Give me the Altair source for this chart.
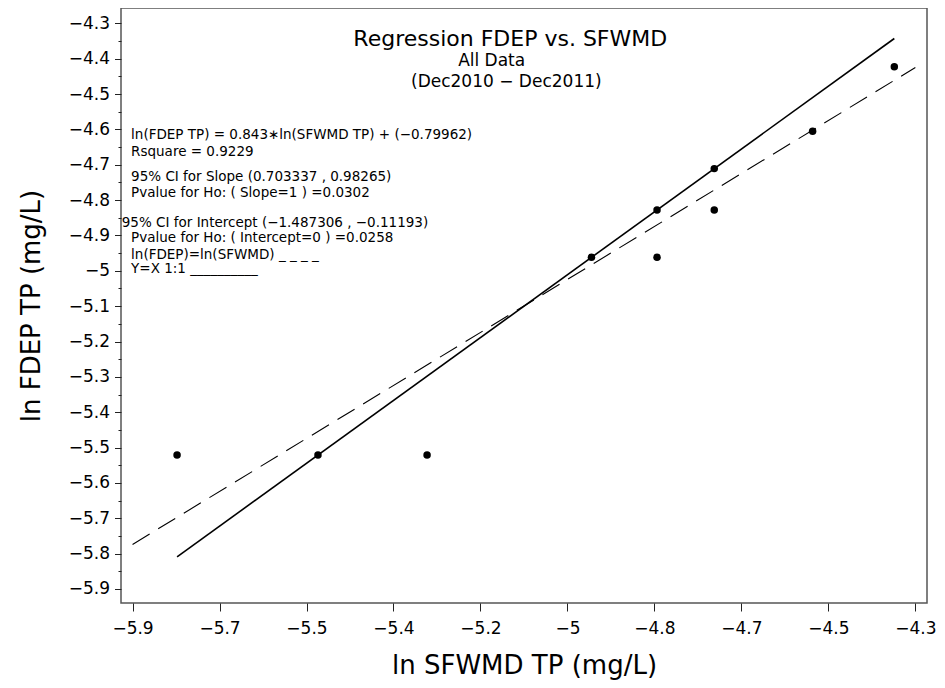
import altair as alt
import pandas as pd
import numpy as np

# ---- data (natural log of TP, mg/L) ----
sfwmd_ln = [-5.809, -5.521, -5.298, -4.962, -4.828, -4.828, -4.711, -4.711, -4.510, -4.343]
fdep_ln = [-5.521, -5.521, -5.521, -4.962, -4.828, -4.962, -4.711, -4.828, -4.605, -4.423]

# 1:1 line (solid) and fitted regression line (dashed) end points
identity_x = [-5.809, -4.343]
identity_y = [-5.809, -4.343]
fit_x = [-5.9, -4.3]
fit_y = [-5.774, -4.425]

# ---- axis ticks / labels ----
x_tick_labels = ["−5.9", "−5.7", "−5.5", "−5.4", "−5.2", "−5", "−4.8", "−4.7", "−4.5", "−4.3"]
x_tick_values = list(np.linspace(-5.9, -4.3, len(x_tick_labels)))
y_tick_labels = ["−4.3", "−4.4", "−4.5", "−4.6", "−4.7", "−4.8", "−4.9", "−5", "−5.1",
                 "−5.2", "−5.3", "−5.4", "−5.5", "−5.6", "−5.7", "−5.8", "−5.9"]
y_tick_values = [round(-4.3 - 0.05 * i, 3) for i in range(33)]  # majors + minor midpoints

# ---- text ----
title_lines = ["Regression FDEP vs. SFWMD"]
subtitle_lines = ["All Data", "(Dec2010 − Dec2011)"]
note_lines = [
    "ln(FDEP TP) = 0.843∗ln(SFWMD TP) + (−0.79962)",
    " Rsquare = 0.9229",
    "95% CI for Slope (0.703337 , 0.98265)",
    "Pvalue for Ho: ( Slope=1 ) =0.0302",
    "95% CI for Intercept (−1.487306 , −0.11193)",
    "Pvalue for Ho: ( Intercept=0 ) =0.0258",
    "ln(FDEP)=ln(SFWMD) _ _ _ _",
    "Y=X 1:1 __________",
]
# anchor positions in data units
title_x = [-5.128]
title_y = [-4.3430]
subtitle_x = [-5.166, -5.136]
subtitle_y = [-4.4070, -4.4650]
note_x = [-5.903, -5.903, -5.903, -5.903, -5.922, -5.903, -5.903, -5.903]
note_y = [-4.616, -4.663, -4.734, -4.779, -4.865, -4.908, -4.955, -4.996]

FONT = "DejaVu Sans"

pts = pd.DataFrame({"x": sfwmd_ln, "y": fdep_ln})
ident = pd.DataFrame({"x": identity_x, "y": identity_y})
fit = pd.DataFrame({"x": fit_x, "y": fit_y})
ttl = pd.DataFrame({"x": title_x, "y": title_y, "t": title_lines})
sub = pd.DataFrame({"x": subtitle_x, "y": subtitle_y, "t": subtitle_lines})
notes = pd.DataFrame({"x": note_x, "y": note_y, "t": note_lines})

x_label_expr = "[" + ",".join("'%s'" % s for s in x_tick_labels) + "][round((datum.value + 5.9) * 9 / 1.6)]"
major_test = "abs(round(datum.value * 10) - datum.value * 10) < 0.001"
y_label_expr = ("(" + major_test + ") ? [" + ",".join("'%s'" % s for s in y_tick_labels)
                + "][round((-4.3 - datum.value) * 10)] : ''")

x_enc = alt.X(
    "x:Q",
    scale=alt.Scale(domain=[-5.9236, -4.2762], nice=False, zero=False),
    axis=alt.Axis(
        values=x_tick_values,
        labelExpr=x_label_expr,
        title="ln SFWMD TP (mg/L)",
        tickSize=8,
        labelPadding=9,
        titlePadding=16,
        labelOverlap=False,
    ),
)
y_enc = alt.Y(
    "y:Q",
    scale=alt.Scale(domain=[-5.9396, -4.2567], nice=False, zero=False),
    axis=alt.Axis(
        values=y_tick_values,
        labelExpr=y_label_expr,
        title="ln FDEP TP (mg/L)",
        tickSize={"condition": {"test": major_test, "value": 6.5}, "value": 3},
        labelPadding=5,
        titlePadding=24,
        labelOverlap=False,
    ),
)

points = alt.Chart(pts).mark_circle(size=56, color="black", opacity=1).encode(x=x_enc, y=y_enc)
line_id = alt.Chart(ident).mark_line(color="black", strokeWidth=1.6).encode(x=x_enc, y=y_enc)
line_fit = alt.Chart(fit).mark_line(color="black", strokeWidth=1.1, strokeDash=[20, 10]).encode(x=x_enc, y=y_enc)
t_title = alt.Chart(ttl).mark_text(font=FONT, fontSize=22, align="center", baseline="middle",
                                   color="black").encode(x=x_enc, y=y_enc, text="t:N")
t_sub = alt.Chart(sub).mark_text(font=FONT, fontSize=17, align="center", baseline="middle",
                                 color="black").encode(x=x_enc, y=y_enc, text="t:N")
t_notes = alt.Chart(notes).mark_text(font=FONT, fontSize=13.5, align="left", baseline="middle",
                                     color="black").encode(x=x_enc, y=y_enc, text="t:N")

chart = (
    alt.layer(line_fit, line_id, points, t_title, t_sub, t_notes)
    .properties(
        width=806,
        height=595,
        autosize=alt.AutoSizeParams(type="none"),
        padding={"left": 113, "top": 0, "right": 10, "bottom": 77},
        background="white",
    )
    .configure_view(stroke="#555555", strokeWidth=1.5)
    .configure_axis(
        domain=False,
        grid=False,
        tickColor="#222222",
        tickWidth=1,
        labelFont=FONT,
        labelFontSize=17,
        labelColor="black",
        titleFont=FONT,
        titleFontSize=26,
        titleFontWeight="normal",
        titleColor="black",
    )
)

chart.save("out.html", embed_options={"renderer": "svg", "actions": False})
